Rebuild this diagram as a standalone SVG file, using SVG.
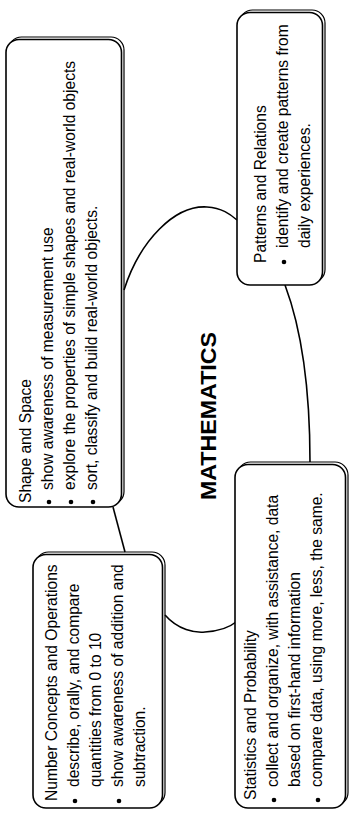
<svg xmlns="http://www.w3.org/2000/svg" width="355" height="828" viewBox="0 0 355 828">
<style>
.box{fill:#fff;stroke:#000;stroke-width:1.6}
.sh{fill:none;stroke:#000;stroke-width:1.2}
.t{font-family:"Liberation Sans",Arial,sans-serif;font-size:15.6px;fill:#000}
.title{font-family:"Liberation Sans",Arial,sans-serif;font-size:22px;font-weight:bold;fill:#000}
.conn{fill:none;stroke:#000;stroke-width:1.6}
</style>
<rect width="355" height="828" fill="#fff"/>
<g id="connectors">
<path class="conn" d="M124,290 C140,240 175,205 207,207 C222,208 230,214 237,220"/>
<path class="conn" d="M285,285 C300,325 310,380 310,462"/>
<path class="conn" d="M165,615 C178,630 195,633 205,632 C220,631 230,627 236,622"/>
<path class="conn" d="M113,507 L125,552"/>
</g>
<g transform="translate(0,828) rotate(-90)">
<g id="shape-space">
<rect class="sh" x="323.5" y="8.5" width="467.5" height="115.5" rx="13"/>
<rect class="box" x="321" y="6" width="467.5" height="115.5" rx="13"/>
<text class="t" x="325" y="31">Shape and Space</text>
<circle cx="326" cy="49" r="2.3"/>
<text class="t" x="338" y="53">show awareness of measurement use</text>
<circle cx="326" cy="71" r="2.3"/>
<text class="t" x="338" y="75">explore the properties of simple shapes and real-world objects</text>
<circle cx="326" cy="93" r="2.3"/>
<text class="t" x="338" y="97">sort, classify and build real-world objects.</text>
</g>
<g id="number-concepts">
<rect class="sh" x="22.5" y="35.5" width="253.5" height="129.5" rx="13"/>
<rect class="box" x="20" y="33" width="253.5" height="129.5" rx="13"/>
<text class="t" x="27" y="57">Number Concepts and Operations</text>
<circle cx="27" cy="75" r="2.3"/>
<text class="t" x="41" y="79">describe, orally, and compare</text>
<text class="t" x="41" y="101">quantities from 0 to 10</text>
<circle cx="27" cy="119" r="2.3"/>
<text class="t" x="41" y="123">show awareness of addition and</text>
<text class="t" x="41" y="145">subtraction.</text>
</g>
<g id="statistics-probability">
<rect class="sh" x="22.5" y="237.5" width="343.5" height="110.5" rx="13"/>
<rect class="box" x="20" y="235" width="343.5" height="110.5" rx="13"/>
<text class="t" x="28" y="256">Statistics and Probability</text>
<circle cx="28" cy="274" r="2.3"/>
<text class="t" x="41" y="278">collect and organize, with assistance, data</text>
<text class="t" x="41" y="300">based on first-hand information</text>
<circle cx="28" cy="318" r="2.3"/>
<text class="t" x="41" y="322">compare data, using more, less, the same.</text>
</g>
<g id="patterns-relations">
<rect class="sh" x="545.5" y="239.5" width="272.5" height="85.5" rx="13"/>
<rect class="box" x="543" y="237" width="272.5" height="85.5" rx="13"/>
<text class="t" x="565" y="266">Patterns and Relations</text>
<circle cx="566" cy="284" r="2.3"/>
<text class="t" x="580" y="288">identify and create patterns from</text>
<text class="t" x="580" y="310">daily experiences.</text>
</g>
<g id="mathematics">
<text class="title" x="328" y="216" textLength="168" lengthAdjust="spacingAndGlyphs">MATHEMATICS</text>
</g>
</g>
</svg>
